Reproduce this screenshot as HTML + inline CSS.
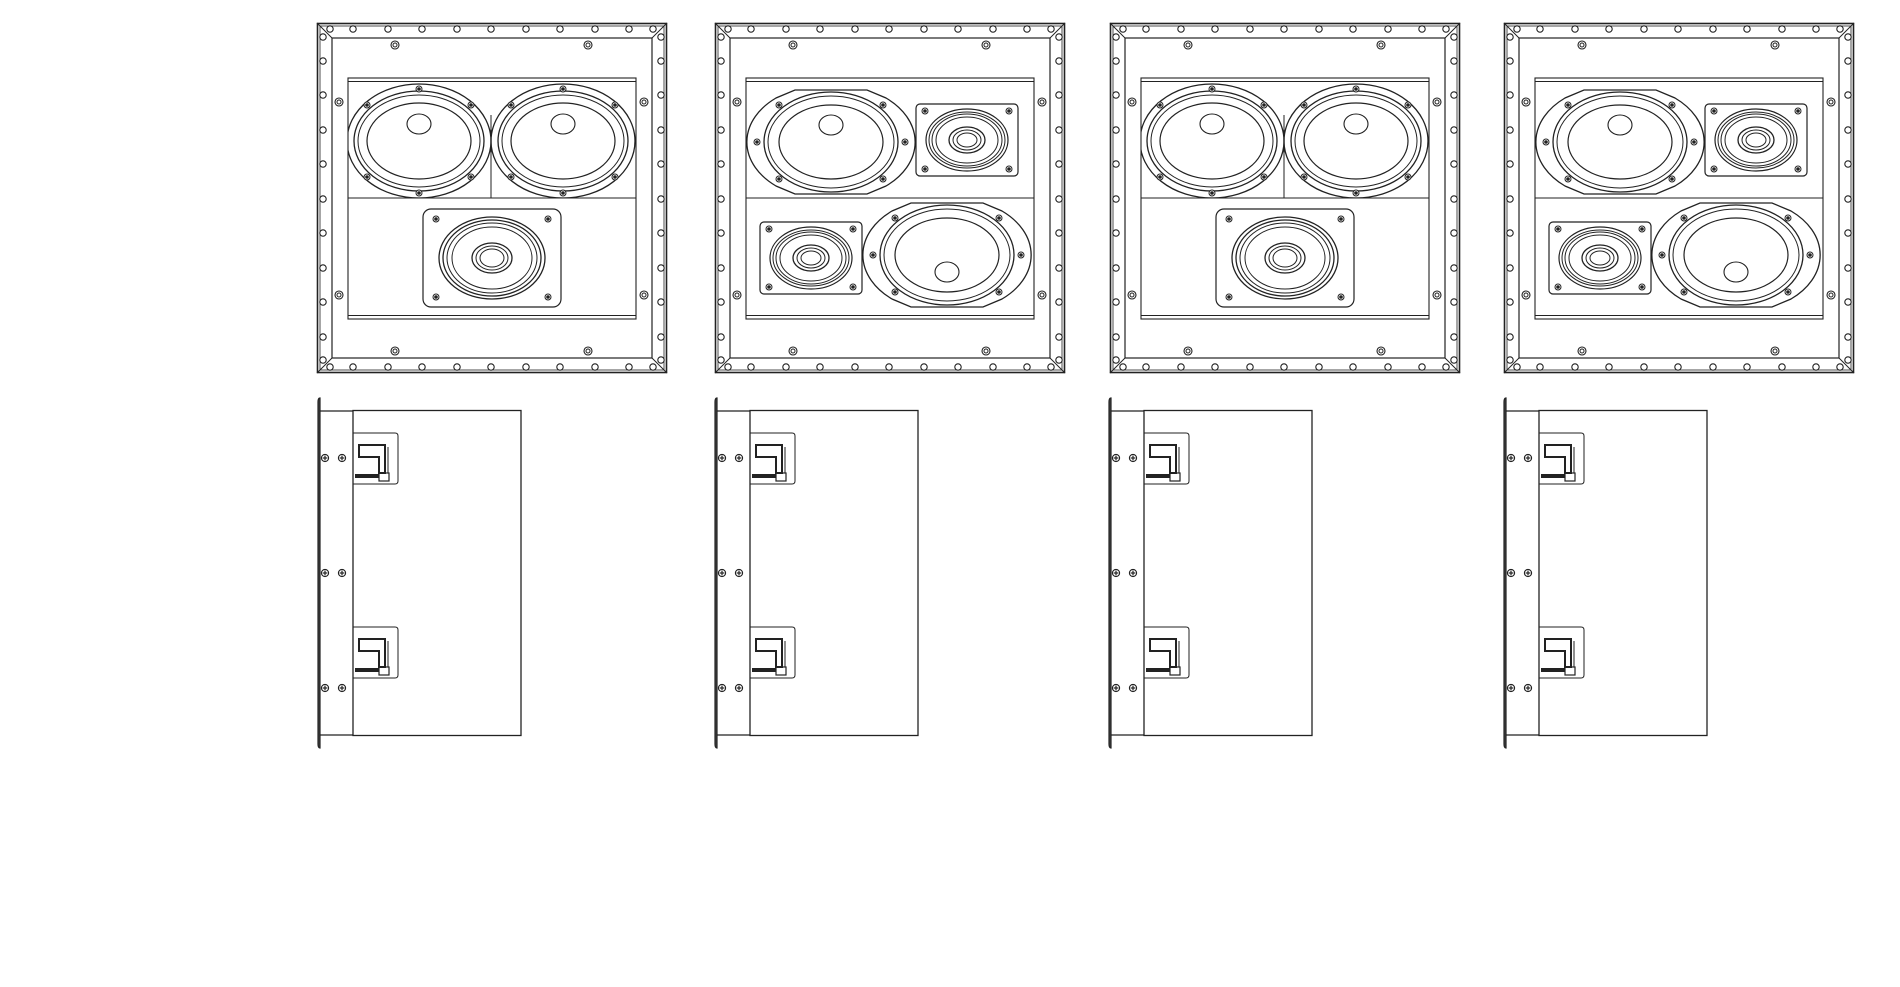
<!DOCTYPE html>
<html><head><meta charset="utf-8"><style>html,body{margin:0;padding:0;background:#fff}svg{display:block}</style></head>
<body>
<svg width="1900" height="987" viewBox="0 0 1900 987" xmlns="http://www.w3.org/2000/svg" xmlns:xlink="http://www.w3.org/1999/xlink">
<defs>
<g id="hole"><circle r="3.2" fill="#fff" stroke="#222" stroke-width="1.1"/></g>
<g id="scr"><circle r="4" fill="#fff" stroke="#222" stroke-width="1.1"/><circle r="2" fill="none" stroke="#222" stroke-width="1"/></g>
<g id="ds"><circle r="3" fill="#fff" stroke="#222" stroke-width="1"/><circle r="1.3" fill="#222"/></g>
<g id="frame" fill="none" stroke="#222">
  <rect x="0.5" y="0.5" width="349" height="349" stroke-width="1.6"/>
  <rect x="3" y="3" width="344" height="344" stroke-width="0.8"/>
  <rect x="15" y="15" width="320" height="320" stroke-width="1.2"/>
  <line x1="0" y1="0" x2="15" y2="15"/><line x1="350" y1="0" x2="335" y2="15"/>
  <line x1="0" y1="350" x2="15" y2="335"/><line x1="350" y1="350" x2="335" y2="335"/>
  <g id="hrow">
    <use xlink:href="#hole" x="13" y="6"/><use xlink:href="#hole" x="36" y="6"/><use xlink:href="#hole" x="71" y="6"/><use xlink:href="#hole" x="105" y="6"/><use xlink:href="#hole" x="140" y="6"/><use xlink:href="#hole" x="174" y="6"/><use xlink:href="#hole" x="209" y="6"/><use xlink:href="#hole" x="243" y="6"/><use xlink:href="#hole" x="278" y="6"/><use xlink:href="#hole" x="312" y="6"/><use xlink:href="#hole" x="336" y="6"/>
  </g>
  <use xlink:href="#hrow" transform="translate(0,338)"/>
  <use xlink:href="#hrow" transform="translate(0,350) rotate(-90)"/>
  <use xlink:href="#hrow" transform="translate(338,350) rotate(-90)"/>
  <use xlink:href="#scr" x="78" y="22"/><use xlink:href="#scr" x="271" y="22"/>
  <use xlink:href="#scr" x="78" y="328"/><use xlink:href="#scr" x="271" y="328"/>
  <use xlink:href="#scr" x="22" y="79"/><use xlink:href="#scr" x="22" y="272"/>
  <use xlink:href="#scr" x="327" y="79"/><use xlink:href="#scr" x="327" y="272"/>
  <rect x="31" y="55" width="288" height="241" stroke-width="1.1"/>
  <line x1="31" y1="58.5" x2="319" y2="58.5"/><line x1="31" y1="292.5" x2="319" y2="292.5"/>
  <line x1="31" y1="175" x2="319" y2="175" stroke-width="1.1"/>
</g>
<clipPath id="cpA"><rect x="31" y="55" width="288" height="120"/></clipPath>
<g id="wooferA" fill="none" stroke="#222">
  <ellipse rx="72" ry="57" stroke-width="1.3"/>
  <ellipse rx="65" ry="50" stroke-width="1.3"/>
  <ellipse rx="61" ry="46"/>
  <ellipse rx="52" ry="38" stroke-width="1.2"/>
  <ellipse cx="0" cy="-17" rx="12" ry="10" stroke-width="1.1"/>
  <use xlink:href="#ds" x="0" y="-52"/><use xlink:href="#ds" x="0" y="52"/>
  <use xlink:href="#ds" x="-52" y="-36"/><use xlink:href="#ds" x="52" y="-36"/>
  <use xlink:href="#ds" x="-52" y="36"/><use xlink:href="#ds" x="52" y="36"/>
</g>
<g id="tweet" fill="none" stroke="#222">
  <rect x="-69" y="-49" width="138" height="98" rx="8" stroke-width="1.2"/>
  <use xlink:href="#ds" x="-56" y="-39"/><use xlink:href="#ds" x="56" y="-39"/>
  <use xlink:href="#ds" x="-56" y="39"/><use xlink:href="#ds" x="56" y="39"/>
  <ellipse rx="53" ry="41" stroke-width="1.3"/>
  <ellipse rx="49" ry="38" stroke-width="1.3"/>
  <ellipse rx="45" ry="35"/>
  <ellipse rx="40" ry="31"/>
  <ellipse rx="20" ry="15" stroke-width="1.3"/>
  <ellipse rx="16" ry="12"/>
  <ellipse rx="12" ry="9"/>
</g>
<g id="tweetB" fill="none" stroke="#222">
  <rect x="-51" y="-36" width="102" height="72" rx="4" stroke-width="1.2"/>
  <use xlink:href="#ds" x="-42" y="-29"/><use xlink:href="#ds" x="42" y="-29"/>
  <use xlink:href="#ds" x="-42" y="29"/><use xlink:href="#ds" x="42" y="29"/>
  <ellipse rx="41" ry="31" stroke-width="1.2"/>
  <ellipse rx="38" ry="28"/>
  <ellipse rx="35" ry="26"/>
  <ellipse rx="31" ry="23"/>
  <ellipse rx="18" ry="13" stroke-width="1.3"/>
  <ellipse rx="14" ry="10"/>
  <ellipse rx="10" ry="7"/>
</g>
<g id="wooferB" fill="none" stroke="#222">
  <path d="M-36,-52 L36,-52 L55,-44 A80,57 0 0 1 55,44 L36,52 L-36,52 L-55,44 A80,57 0 0 1 -55,-44 Z" stroke-width="1.3"/>
  <ellipse rx="67" ry="50" stroke-width="1.3"/>
  <ellipse rx="63" ry="46"/>
  <ellipse rx="52" ry="37" stroke-width="1.2"/>
  <use xlink:href="#ds" x="-74" y="0"/><use xlink:href="#ds" x="74" y="0"/>
  <use xlink:href="#ds" x="-52" y="-37"/><use xlink:href="#ds" x="52" y="-37"/>
  <use xlink:href="#ds" x="-52" y="37"/><use xlink:href="#ds" x="52" y="37"/>
</g>
<g id="panelA">
  <use xlink:href="#frame"/>
  <g clip-path="url(#cpA)">
    <use xlink:href="#wooferA" x="102" y="118"/>
    <use xlink:href="#wooferA" x="246" y="118"/>
  </g>
  <line x1="174" y1="92" x2="174" y2="175" stroke="#222"/>
  <use xlink:href="#tweet" x="175" y="235"/>
</g>
<g id="panelB">
  <use xlink:href="#frame"/>
  <use xlink:href="#wooferB" x="116" y="119"/>
  <use xlink:href="#tweetB" x="252" y="117"/>
  <use xlink:href="#tweetB" x="96" y="235"/>
  <g transform="translate(232,232)"><use xlink:href="#wooferB"/><ellipse cx="0" cy="17" rx="12" ry="10" fill="none" stroke="#222" stroke-width="1.1"/></g>
  <ellipse cx="116" cy="102" rx="12" ry="10" fill="none" stroke="#222" stroke-width="1.1"/>
</g>
<g id="cross"><circle r="3.6" fill="#fff" stroke="#222" stroke-width="1.1"/><line x1="-2.4" y1="0" x2="2.4" y2="0" stroke="#222" stroke-width="1.2"/><line x1="0" y1="-2.4" x2="0" y2="2.4" stroke="#222" stroke-width="1.2"/></g>
<g id="brk" fill="none" stroke="#222">
  <path d="M36,0 L78,0 Q81,0 81,3 L81,48 Q81,51 78,51 L36,51" stroke-width="1"/>
  <path d="M42,12 L68,12 L68,40 L62,40 L62,24 L42,24 Z" stroke-width="2"/>
  <line x1="71" y1="14" x2="71" y2="40" stroke-width="1"/>
  <rect x="62" y="40" width="10" height="8" stroke-width="1.2"/>
  <rect x="38" y="41" width="24" height="4" fill="#222" stroke="none"/>
</g>
<g id="side" fill="none" stroke="#222">
  <path d="M1,4 Q1,0 3,0 L3,350 Q1,350 1,346 Z" fill="#444" stroke-width="1.2"/>
  <line x1="3" y1="13" x2="36" y2="13" stroke-width="1.2"/>
  <line x1="3" y1="337" x2="36" y2="337" stroke-width="1.2"/>
  <rect x="36" y="12.5" width="168" height="325" stroke-width="1.3"/>
  <use xlink:href="#brk" y="35"/>
  <use xlink:href="#brk" y="229"/>
  <use xlink:href="#cross" x="8" y="60"/><use xlink:href="#cross" x="25" y="60"/>
  <use xlink:href="#cross" x="8" y="175"/><use xlink:href="#cross" x="25" y="175"/>
  <use xlink:href="#cross" x="8" y="290"/><use xlink:href="#cross" x="25" y="290"/>
</g>
</defs>
<rect width="1900" height="987" fill="#fff"/>
<use xlink:href="#panelA" x="317" y="23"/>
<use xlink:href="#panelB" x="715" y="23"/>
<use xlink:href="#panelA" x="1110" y="23"/>
<use xlink:href="#panelB" x="1504" y="23"/>
<use xlink:href="#side" x="317" y="398"/>
<use xlink:href="#side" x="714" y="398"/>
<use xlink:href="#side" x="1108" y="398"/>
<use xlink:href="#side" x="1503" y="398"/>
</svg>
</body></html>
